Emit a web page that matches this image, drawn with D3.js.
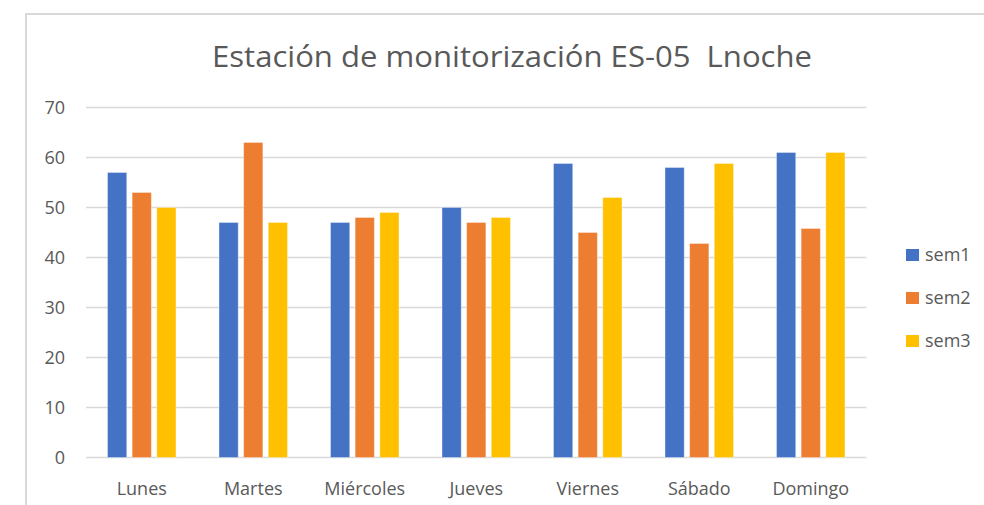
<!DOCTYPE html>
<html>
<head>
<meta charset="utf-8">
<script src="https://cdn.jsdelivr.net/npm/d3@7"></script>
<style>
  body { margin: 0; background: #fff; }
  svg { display: block; font-family: "Open Sans", sans-serif; }
</style>
</head>
<body>
<svg id="chart" width="984" height="505"></svg>
<script>
const width = 984;
const height = 505;

const days = ["Lunes", "Martes", "Miércoles", "Jueves", "Viernes", "Sábado", "Domingo"];
const seriesNames = ["sem1", "sem2", "sem3"];
const sem1 = [57, 47, 47, 50, 58.8, 58, 61];
const sem2 = [53, 63, 48, 47, 45, 42.8, 45.8];
const sem3 = [50, 47, 49, 48, 52, 58.8, 61];
const yTicks = [0, 10, 20, 30, 40, 50, 60, 70];
const colors = ["#4472C4", "#ED7D31", "#FFC000"];

const values = [sem1, sem2, sem3];
const rows = days.map((d, i) => ({
    day: d,
    vals: seriesNames.map((s, j) => ({ key: s, value: values[j][i] }))
}));

const svg = d3.select("#chart");

// chart frame
svg.append("path")
    .attr("d", `M26,${height} V14 H${width}`)
    .attr("fill", "none")
    .attr("stroke", "#d9d9d9")
    .attr("stroke-width", 2);

// title
const title = svg.append("text")
    .attr("x", 512)
    .attr("y", 67)
    .attr("text-anchor", "middle")
    .attr("font-size", 30)
    .attr("fill", "#595959")
    .style("white-space", "pre")
    .text("Estación de monitorización ES-05  Lnoche");
title.attr("textLength", 600).attr("lengthAdjust", "spacingAndGlyphs");

// scales
const x0 = d3.scaleBand()
    .domain(days)
    .range([86, 866.5])
    .padding(0);

const bw = x0.bandwidth();
const x1 = d3.scaleBand()
    .domain(seriesNames)
    .range([bw * 0.193, bw * 0.807])
    .paddingInner(0.22);

const y = d3.scaleLinear()
    .domain([0, 70])
    .range([457.5, 107.5]);

// gridlines
svg.append("g")
    .selectAll("line")
    .data(yTicks)
    .join("line")
    .attr("x1", 86)
    .attr("x2", 866.5)
    .attr("y1", d => y(d))
    .attr("y2", d => y(d))
    .attr("stroke", "#d9d9d9")
    .attr("stroke-width", 1.5);

// y labels
svg.append("g")
    .selectAll("text")
    .data(yTicks)
    .join("text")
    .attr("x", 65)
    .attr("y", d => y(d))
    .attr("dy", "0.36em")
    .attr("text-anchor", "end")
    .attr("font-size", 18)
    .attr("fill", "#595959")
    .text(d => d);

// bars
const groups = svg.append("g")
    .selectAll("g")
    .data(rows)
    .join("g")
    .attr("transform", d => `translate(${x0(d.day)},0)`);

groups.selectAll("rect")
    .data(d => d.vals)
    .join("rect")
    .attr("x", d => x1(d.key))
    .attr("width", x1.bandwidth())
    .attr("y", d => y(d.value))
    .attr("height", d => y(0) - y(d.value))
    .attr("fill", (d, i) => colors[i])
    .attr("stroke", "#ffffff")
    .attr("stroke-opacity", 0.35)
    .attr("stroke-width", 1);

// x labels
svg.append("g")
    .selectAll("text")
    .data(days)
    .join("text")
    .attr("x", d => x0(d) + bw / 2)
    .attr("y", 495)
    .attr("text-anchor", "middle")
    .attr("font-size", 18)
    .attr("fill", "#595959")
    .text(d => d);

// legend
const legend = svg.append("g")
    .selectAll("g")
    .data(seriesNames)
    .join("g")
    .attr("transform", (d, i) => `translate(906,${255 + i * 43})`);

legend.append("rect")
    .attr("x", 0)
    .attr("y", -6)
    .attr("width", 13)
    .attr("height", 12)
    .attr("fill", (d, i) => colors[i]);

legend.append("text")
    .attr("x", 19)
    .attr("dy", "0.36em")
    .attr("font-size", 18)
    .attr("fill", "#595959")
    .text(d => d);
</script>
</body>
</html>
